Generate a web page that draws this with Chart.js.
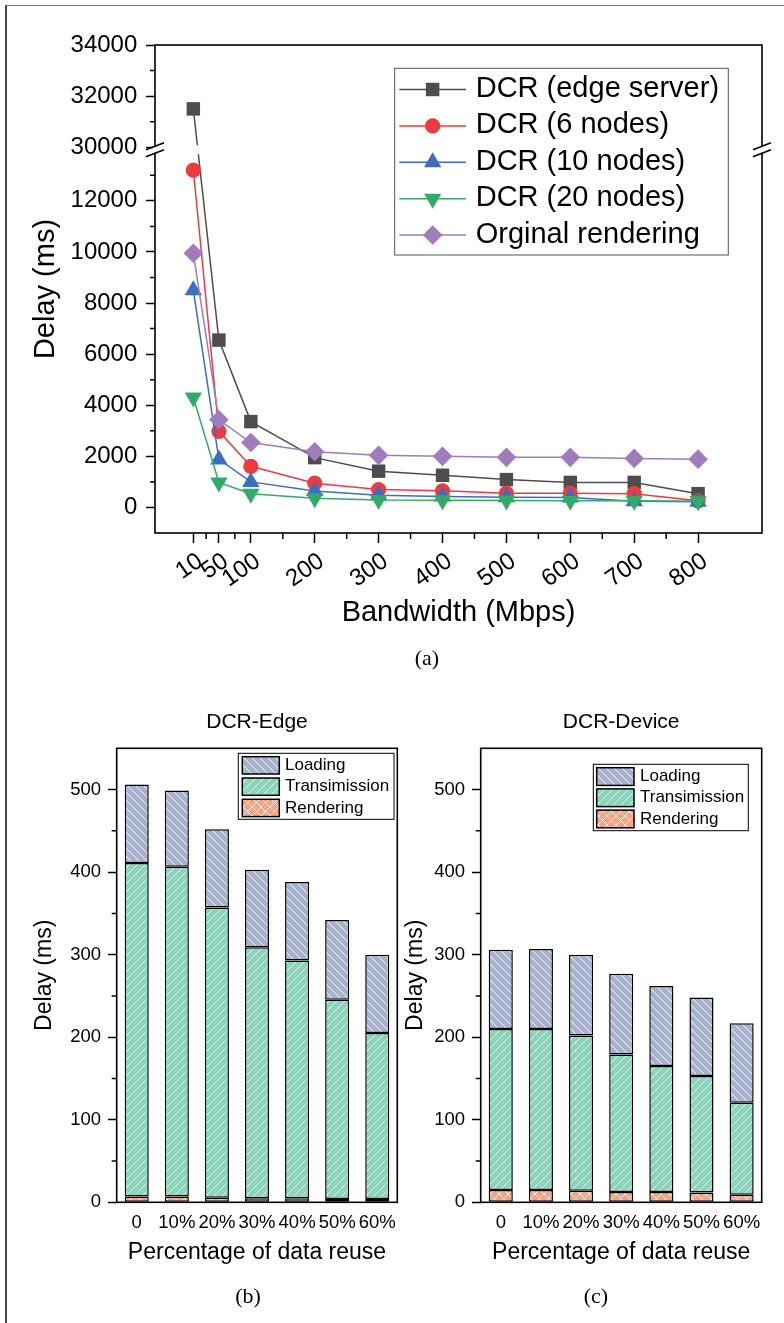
<!DOCTYPE html>
<html>
<head>
<meta charset="utf-8">
<script src="https://cdn.jsdelivr.net/npm/chart.js@4.4.0/dist/chart.umd.min.js"></script>
<style>
  body { margin: 0; background: #fff; }
  #page { position: relative; width: 784px; height: 1323px; overflow: hidden; }
  #frame { position: absolute; left: 5px; top: 5px; right: -10px; bottom: -10px; border-left: 2px solid #444; border-top: 1px solid #777; }
  canvas { position: absolute; }
  .cap { position: absolute; width: 60px; margin-left: -30px; text-align: center; font: 22px/22px "Liberation Serif", "Times New Roman", serif; color: #000; }
</style>
</head>
<body>
<div id="page">
  <div id="frame"></div>
  <canvas id="lineChart" width="784" height="650" style="left:0;top:0"></canvas>
  <canvas id="edgeChart" width="400" height="633" style="left:0;top:690px"></canvas>
  <canvas id="deviceChart" width="384" height="633" style="left:400px;top:690px"></canvas>
  <div class="cap" style="left:427px;top:647px">(a)</div>
  <div class="cap" style="left:248px;top:1285px">(b)</div>
  <div class="cap" style="left:596px;top:1285px">(c)</div>
</div>
<script>
// (a) delay vs bandwidth
const bandwidth = [10, 50, 100, 200, 300, 400, 500, 600, 700, 800]
const edgeServer = [31500, 6550, 3360, 1950, 1420, 1260, 1090, 980, 980, 540]
const nodes6 = [13200, 2980, 1610, 950, 700, 650, 560, 560, 540, 260]
const nodes10 = [8500, 1880, 1000, 640, 480, 430, 400, 390, 240, 220]
const nodes20 = [4300, 980, 540, 360, 290, 280, 270, 260, 260, 240]
const original = [9950, 3430, 2540, 2180, 2040, 2000, 1960, 1960, 1920, 1890]
const bandwidthTicks = [10, 50, 100, 200, 300, 400, 500, 600, 700, 800]
const bandwidthMinor = [30, 75, 150, 250, 350, 450, 550, 650, 750]
const delayTicks = [0, 2000, 4000, 6000, 8000, 10000, 12000, 30000, 32000, 34000]
const delayMinor = [1000, 3000, 5000, 7000, 9000, 11000, 13000, 31000, 33000]

// (b) / (c) delay breakdown vs data reuse
const reuse = ['0', '10%', '20%', '30%', '40%', '50%', '60%']
const edgeRendering = [7, 7, 5.5, 5, 5, 4, 4]
const edgeTransmission = [404, 399.5, 351.5, 304, 288, 241.5, 201]
const edgeLoading = [95, 92.5, 95, 94, 95, 96.5, 95]
const deviceRendering = [15, 15, 14, 12.5, 12.5, 12, 9]
const deviceTransmission = [195, 195, 188, 166.5, 152.5, 141, 111.5]
const deviceLoading = [96, 97, 98, 98, 97, 95, 96.5]
const barTicks = [0, 100, 200, 300, 400, 500]
const barMinor = [50, 150, 250, 350, 450]

const FONT = '"Liberation Sans", Arial, sans-serif'
Chart.defaults.font.family = FONT
Chart.defaults.color = '#000'

// broken y axis: values between BREAK_LOW and BREAK_HIGH are cut out
const BREAK_LOW = 14000
const BREAK_HIGH = 29900
function squeeze(v) {
  if (v <= BREAK_LOW) return v
  if (v >= BREAK_HIGH) return v - (BREAK_HIGH - BREAK_LOW)
  return BREAK_LOW
}
function unsqueeze(t) {
  return t <= BREAK_LOW ? t : t + (BREAK_HIGH - BREAK_LOW)
}
class BrokenLinearScale extends Chart.LinearScale {
  configure() {
    super.configure()
    this._startValue = squeeze(this.min)
    this._endValue = squeeze(this.max)
    this._valueRange = this._endValue - this._startValue
  }
  getPixelForValue(value) {
    if (value === null) return NaN
    return this.getPixelForDecimal((squeeze(value) - this._startValue) / this._valueRange)
  }
  getValueForPixel(pixel) {
    return unsqueeze(this._startValue + this.getDecimalForPixel(pixel) * this._valueRange)
  }
}
BrokenLinearScale.id = 'brokenLinear'
BrokenLinearScale.defaults = Chart.LinearScale.defaults
Chart.register(BrokenLinearScale)

// hatch fills
function hatch(color, kind, size) {
  const c = document.createElement('canvas')
  c.width = c.height = size
  const g = c.getContext('2d')
  g.fillStyle = color
  g.fillRect(0, 0, size, size)
  g.strokeStyle = 'rgba(255,255,255,0.9)'
  g.lineWidth = 1
  g.beginPath()
  if (kind === 'back' || kind === 'cross') {
    g.moveTo(0, 0); g.lineTo(size, size)
    g.moveTo(-1, size - 1); g.lineTo(1, size + 1)
    g.moveTo(size - 1, -1); g.lineTo(size + 1, 1)
  }
  if (kind === 'fwd' || kind === 'cross') {
    g.moveTo(0, size); g.lineTo(size, 0)
    g.moveTo(-1, 1); g.lineTo(1, -1)
    g.moveTo(size - 1, size + 1); g.lineTo(size + 1, size - 1)
  }
  g.stroke()
  return g.createPattern(c, 'repeat')
}
const loadingFill = hatch('#a5b1d6', 'back', 8)
const transFill = hatch('#8fd3ba', 'fwd', 8)
const renderFill = hatch('#f8a483', 'cross', 9)

function drawLineLegend(ctx, chart, L) {
  ctx.lineWidth = 1
  ctx.strokeStyle = '#555'
  ctx.strokeRect(L.x, L.y, L.w, L.h)
  ctx.font = L.fontSize + 'px ' + FONT
  ctx.textAlign = 'left'
  ctx.textBaseline = 'middle'
  chart.data.datasets.forEach((ds, i) => {
    const y = L.firstRow + i * L.rowStep
    ctx.strokeStyle = ds.borderColor
    ctx.lineWidth = ds.borderWidth
    ctx.beginPath()
    ctx.moveTo(L.lineX0, y)
    ctx.lineTo(L.lineX1, y)
    ctx.stroke()
    ctx.fillStyle = ds.borderColor
    Chart.helpers.drawPoint(ctx, { pointStyle: ds.pointStyle, radius: ds.pointRadius, rotation: ds.pointRotation || 0, borderWidth: 0 }, (L.lineX0 + L.lineX1) / 2, y)
    ctx.fillStyle = '#000'
    ctx.fillText(ds.label, L.textX, y - 0.5)
  })
}

function drawBarLegend(ctx, chart, L) {
  ctx.lineWidth = 1
  ctx.strokeStyle = '#000'
  ctx.strokeRect(L.x, L.y, L.w, L.h)
  ctx.font = L.fontSize + 'px ' + FONT
  ctx.textAlign = 'left'
  ctx.textBaseline = 'middle'
  chart.data.datasets.slice().reverse().forEach((ds, i) => {
    const y = L.firstRow + i * L.rowStep
    ctx.fillStyle = ds.backgroundColor
    ctx.fillRect(L.swX, y, L.swW, L.swH)
    ctx.lineWidth = 1.5
    ctx.strokeStyle = '#000'
    ctx.strokeRect(L.swX, y, L.swW, L.swH)
    ctx.fillStyle = '#000'
    ctx.fillText(ds.label, L.textX, y + L.swH / 2)
  })
}

// frame, minor ticks, axis break and legend
const decor = {
  id: 'decor',
  afterDraw(chart, args, opts) {
    const { ctx, chartArea: a, scales } = chart
    ctx.save()
    let yb = null
    if (opts.breakAt != null) {
      yb = scales.y.getPixelForValue(opts.breakAt)
      ctx.fillStyle = '#fff'
      ctx.fillRect(a.left + 2, yb - 4.5, a.width - 4, 9)
    }
    ctx.strokeStyle = '#000'
    ctx.lineWidth = opts.frameWidth
    ctx.strokeRect(a.left, a.top, a.width, a.height)
    ctx.lineWidth = 1.5
    ctx.beginPath()
    ;(opts.yMinor || []).forEach(v => {
      const p = scales.y.getPixelForValue(v)
      ctx.moveTo(a.left - opts.minorLen, p)
      ctx.lineTo(a.left, p)
    })
    ;(opts.xMinor || []).forEach(v => {
      const p = scales.x.getPixelForValue(v)
      ctx.moveTo(p, a.bottom)
      ctx.lineTo(p, a.bottom + opts.minorLen + 1)
    })
    ctx.stroke()
    if (yb !== null) {
      [a.left, a.right].forEach(x => {
        ctx.fillStyle = '#fff'
        ctx.fillRect(x - 2, yb - 3, 4, 6)
        ctx.beginPath()
        ctx.moveTo(x - 9, yb); ctx.lineTo(x + 9, yb - 7)
        ctx.moveTo(x - 9, yb + 7); ctx.lineTo(x + 9, yb)
        ctx.stroke()
      })
    }
    if (opts.lineLegend) drawLineLegend(ctx, chart, opts.lineLegend)
    if (opts.barLegend) drawBarLegend(ctx, chart, opts.barLegend)
    ctx.restore()
  }
}

function lineSet(label, data, color, style, radius, rotation, order) {
  return {
    label: label,
    data: bandwidth.map((b, i) => ({ x: b, y: data[i] })),
    borderColor: color,
    backgroundColor: color,
    borderWidth: 1.5,
    pointStyle: style,
    pointRadius: radius,
    pointRotation: rotation,
    pointBackgroundColor: color,
    pointBorderWidth: 0,
    tension: 0,
    order: order,
    clip: false,
  }
}

const lineChart = new Chart(document.getElementById('lineChart'), {
  type: 'line',
  data: {
    datasets: [
      lineSet('DCR (edge server)', edgeServer, '#4d4d4d', 'rect', 9.5, 0, 5),
      lineSet('DCR (6 nodes)', nodes6, '#ee3b3f', 'circle', 7.6, 0, 4),
      lineSet('DCR (10 nodes)', nodes10, '#3b6ebf', 'triangle', 10, 0, 3),
      lineSet('DCR (20 nodes)', nodes20, '#33aa68', 'triangle', 10, 180, 2),
      lineSet('Orginal rendering', original, '#a07cbd', 'rectRot', 9.8, 0, 1),
    ],
  },
  options: {
    responsive: false,
    animation: false,
    events: [],
    devicePixelRatio: 1,
    layout: { padding: { left: 0, top: 45, right: 22, bottom: 0 } },
    scales: {
      x: {
        type: 'linear',
        min: -50,
        max: 900,
        afterBuildTicks: s => { s.ticks = bandwidthTicks.map(v => ({ value: v })) },
        afterFit: s => { s.height = 117 },
        grid: { display: true, drawOnChartArea: false, drawTicks: true, tickLength: 10, tickWidth: 1.5, tickColor: '#000' },
        border: { display: false },
        ticks: { autoSkip: false, minRotation: 35, maxRotation: 35, padding: 4, labelOffset: 7, font: { size: 24 }, callback: v => String(v) },
        title: { display: true, text: 'Bandwidth (Mbps)', font: { size: 29 }, padding: { top: 0, bottom: 20 } },
      },
      y: {
        type: 'brokenLinear',
        min: -1000,
        max: 34000,
        afterBuildTicks: s => { s.ticks = delayTicks.map(v => ({ value: v })) },
        afterFit: s => { s.width = 155 },
        grid: { display: true, drawOnChartArea: false, drawTicks: true, tickLength: 9, tickWidth: 1.5, tickColor: '#000' },
        border: { display: false },
        ticks: { autoSkip: false, padding: 8.7, font: { size: 24 }, callback: v => String(v) },
        title: { display: true, text: 'Delay (ms)', font: { size: 29 }, padding: { top: 28.6, bottom: 0 } },
      },
    },
    plugins: {
      legend: { display: false },
      tooltip: { enabled: false },
      decor: {
        frameWidth: 1.6,
        minorLen: 5,
        yMinor: delayMinor,
        xMinor: bandwidthMinor,
        breakAt: BREAK_LOW,
        lineLegend: { x: 394.7, y: 68.3, w: 333.6, h: 186.7, firstRow: 89.5, rowStep: 36.4, lineX0: 399.3, lineX1: 466, textX: 475.7, fontSize: 29 },
      },
    },
  },
  plugins: [decor],
})

function barConfig(title, rendering, transmission, loading, yAxisWidth, yTitlePad, rightPad, legend) {
  const common = { backgroundColor: null, borderColor: '#000', borderWidth: 1.5, borderSkipped: false, categoryPercentage: 1, barPercentage: 0.6 }
  return {
    type: 'bar',
    data: {
      labels: reuse,
      datasets: [
        Object.assign({}, common, { label: 'Rendering', data: rendering, backgroundColor: renderFill }),
        Object.assign({}, common, { label: 'Transimission', data: transmission, backgroundColor: transFill }),
        Object.assign({}, common, { label: 'Loading', data: loading, backgroundColor: loadingFill }),
      ],
    },
    options: {
      responsive: false,
      animation: false,
      events: [],
      devicePixelRatio: 1,
      layout: { padding: { left: 0, top: 0, right: rightPad, bottom: 0 } },
      scales: {
        x: {
          stacked: true,
          afterFit: s => { s.height = 120.7 },
          grid: { display: false },
          border: { display: false },
          ticks: { autoSkip: false, maxRotation: 0, padding: 2, font: { size: 18.5 } },
          title: { display: true, text: 'Percentage of data reuse', font: { size: 23 }, padding: { top: 0, bottom: 57 } },
        },
        y: {
          stacked: true,
          min: 0,
          max: 550,
          afterBuildTicks: s => { s.ticks = barTicks.map(v => ({ value: v })) },
          afterFit: s => { s.width = yAxisWidth },
          grid: { display: true, drawOnChartArea: false, drawTicks: true, tickLength: 8.7, tickWidth: 1.5, tickColor: '#000' },
          border: { display: false },
          ticks: { padding: 7, font: { size: 18.5 } },
          title: { display: true, text: 'Delay (ms)', font: { size: 23 }, padding: { top: yTitlePad, bottom: 0 } },
        },
      },
      plugins: {
        legend: { display: false },
        tooltip: { enabled: false },
        title: { display: true, text: title, fullSize: false, font: { size: 21, weight: 'normal' }, padding: { top: 20.1, bottom: 13 } },
        decor: { frameWidth: 1.6, minorLen: 5, yMinor: barMinor, barLegend: legend },
      },
    },
    plugins: [decor],
  }
}

const edgeChart = new Chart(document.getElementById('edgeChart'),
  barConfig('DCR-Edge', edgeRendering, edgeTransmission, edgeLoading, 116.7, 31, 2.7,
    { x: 238.3, y: 63.3, w: 155.7, h: 66, swX: 242.3, swW: 37, swH: 17.3, firstRow: 66.7, rowStep: 21.3, textX: 285, fontSize: 17 }))

const deviceChart = new Chart(document.getElementById('deviceChart'),
  barConfig('DCR-Device', deviceRendering, deviceTransmission, deviceLoading, 80.7, 1.6, 22.3,
    { x: 193.3, y: 74.3, w: 155, h: 66.4, swX: 196.7, swW: 37.3, swH: 17.7, firstRow: 77.7, rowStep: 21.2, textX: 240, fontSize: 17 }))
</script>
</body>
</html>
